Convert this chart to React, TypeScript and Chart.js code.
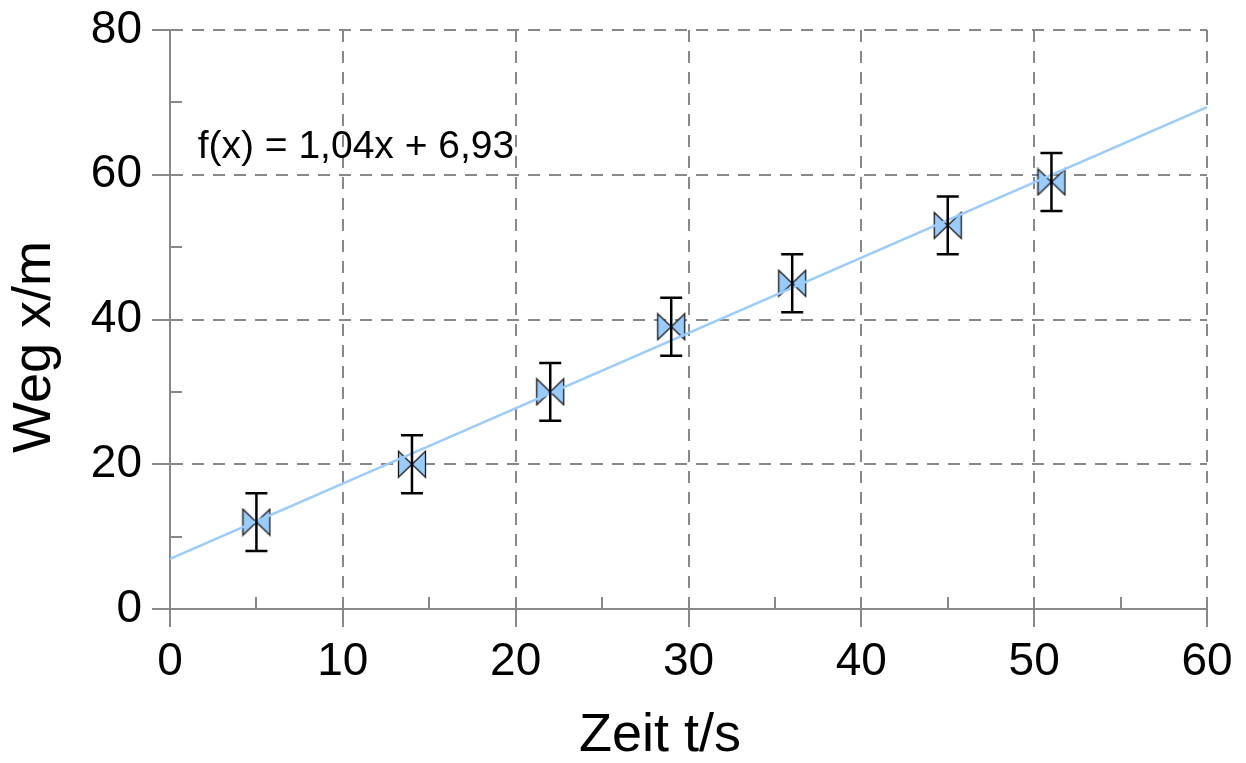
import React, { useEffect, useRef } from "react";
import { Chart, registerables } from "chart.js";

Chart.register(...registerables);

// ---- data ----
const timeValues = [5, 14, 22, 29, 36, 45, 51];
const distanceValues = [12, 20, 30, 39, 45, 53, 59];
const distanceErrors = [4, 4, 4, 4, 4, 4, 4];
const trendX = [0, 60];
const trendY = [6.93, 69.33];
const xMinorTicks = [5, 15, 25, 35, 45, 55];
const yMinorTicks = [10, 30, 50, 70];
const equationText = "f(x) = 1,04x + 6,93";
const equationAnchor = [1.6, 63.8];
const xTitle = "Zeit t/s";
const yTitle = "Weg x/m";

const FONT = "'Liberation Sans', Arial, sans-serif";
const GRID = "#888888";

function makeBowtie(): HTMLCanvasElement {
  const w = 30;
  const h = 29;
  const c = document.createElement("canvas");
  c.width = w;
  c.height = h;
  const g = c.getContext("2d")!;
  g.fillStyle = "#99ccff";
  g.strokeStyle = "#1a1a1a";
  g.lineWidth = 1.3;
  g.lineJoin = "miter";
  const l = 1.5, r = w - 1.5, t = 1.5, b = h - 1.5, cx = w / 2, cy = h / 2;
  g.beginPath();
  g.moveTo(l, t);
  g.lineTo(cx, cy);
  g.lineTo(l, b);
  g.closePath();
  g.fill();
  g.stroke();
  g.beginPath();
  g.moveTo(r, t);
  g.lineTo(cx, cy);
  g.lineTo(r, b);
  g.closePath();
  g.fill();
  g.stroke();
  return c;
}

const overlayPlugin = {
  id: "overlay",
  beforeDatasetsDraw(chart: any) {
    const { ctx, scales, chartArea } = chart;
    const x = scales.x;
    const y = scales.y;
    ctx.save();
    ctx.strokeStyle = GRID;
    ctx.lineWidth = 2;
    ctx.setLineDash([]);
    for (const v of xMinorTicks) {
      const px = Math.round(x.getPixelForValue(v));
      ctx.beginPath();
      ctx.moveTo(px, chartArea.bottom);
      ctx.lineTo(px, chartArea.bottom - 12);
      ctx.stroke();
    }
    for (const v of yMinorTicks) {
      const py = Math.round(y.getPixelForValue(v));
      ctx.beginPath();
      ctx.moveTo(chartArea.left, py);
      ctx.lineTo(chartArea.left + 12, py);
      ctx.stroke();
    }
    ctx.fillStyle = "#000";
    ctx.font = `39px ${FONT}`;
    ctx.textAlign = "left";
    ctx.textBaseline = "middle";
    ctx.fillText(
      equationText,
      x.getPixelForValue(equationAnchor[0]),
      y.getPixelForValue(equationAnchor[1])
    );
    ctx.restore();
  },
  afterDatasetsDraw(chart: any) {
    const { ctx, scales } = chart;
    const x = scales.x;
    const y = scales.y;
    ctx.save();
    ctx.strokeStyle = "#000";
    ctx.lineWidth = 2.5;
    ctx.setLineDash([]);
    const cap = 11;
    timeValues.forEach((tv, i) => {
      const px = x.getPixelForValue(tv);
      const top = y.getPixelForValue(distanceValues[i] + distanceErrors[i]);
      const bot = y.getPixelForValue(distanceValues[i] - distanceErrors[i]);
      ctx.beginPath();
      ctx.moveTo(px, top);
      ctx.lineTo(px, bot);
      ctx.moveTo(px - cap, top);
      ctx.lineTo(px + cap, top);
      ctx.moveTo(px - cap, bot);
      ctx.lineTo(px + cap, bot);
      ctx.stroke();
    });
    ctx.restore();
  },
  afterDraw(chart: any) {
    const { ctx } = chart;
    ctx.save();
    ctx.fillStyle = "#000";
    ctx.font = `54px ${FONT}`;
    ctx.textAlign = "center";
    ctx.textBaseline = "middle";
    ctx.fillText(xTitle, 660, 736);
    ctx.translate(35, 347);
    ctx.rotate(-Math.PI / 2);
    ctx.fillText(yTitle, 0, 0);
    ctx.restore();
  },
};

export default function App() {
  const ref = useRef<HTMLCanvasElement | null>(null);

  useEffect(() => {
    if (!ref.current) return;
    const bowtie = makeBowtie();
    const chart = new Chart(ref.current, {
      type: "scatter",
      data: {
        datasets: [
          {
            label: "trend",
            type: "line",
            data: trendX.map((v, i) => ({ x: v, y: trendY[i] })),
            borderColor: "#99ccff",
            borderWidth: 2.5,
            pointRadius: 0,
            fill: false,
            order: 0,
          } as any,
          {
            label: "Messwerte",
            data: timeValues.map((v, i) => ({ x: v, y: distanceValues[i] })),
            pointStyle: bowtie as any,
            pointRadius: 14,
            order: 1,
          },
        ],
      },
      options: {
        animation: false,
        responsive: true,
        maintainAspectRatio: false,
        layout: { padding: { left: 0, top: 30, right: 39, bottom: 0 } },
        plugins: {
          legend: { display: false },
          tooltip: { enabled: false },
        },
        scales: {
          x: {
            type: "linear",
            min: 0,
            max: 60,
            afterFit: (s: any) => {
              s.height = 154;
              s.paddingLeft = 0;
              s.paddingRight = 0;
            },
            ticks: {
              stepSize: 10,
              color: "#000",
              padding: 8,
              font: { family: FONT, size: 46 },
              maxRotation: 0,
            },
            grid: {
              color: GRID,
              lineWidth: 2,
              tickLength: 18,
              tickColor: GRID,
            },
            border: { display: true, color: GRID, width: 2, dash: [12, 9] },
          },
          y: {
            type: "linear",
            min: 0,
            max: 80,
            afterFit: (s: any) => {
              s.width = 170;
              s.paddingTop = 0;
              s.paddingBottom = 0;
            },
            ticks: {
              stepSize: 20,
              color: "#000",
              padding: 10,
              font: { family: FONT, size: 46 },
            },
            grid: {
              color: GRID,
              lineWidth: 2,
              tickLength: 18,
              tickColor: GRID,
            },
            border: { display: true, color: GRID, width: 2, dash: [12, 9] },
          },
        },
      },
      plugins: [overlayPlugin],
    });
    return () => chart.destroy();
  }, []);

  return (
    <div
      style={{
        position: "fixed",
        left: 0,
        top: 0,
        width: 1246,
        height: 763,
        background: "#fff",
      }}
    >
      <canvas ref={ref} />
    </div>
  );
}
